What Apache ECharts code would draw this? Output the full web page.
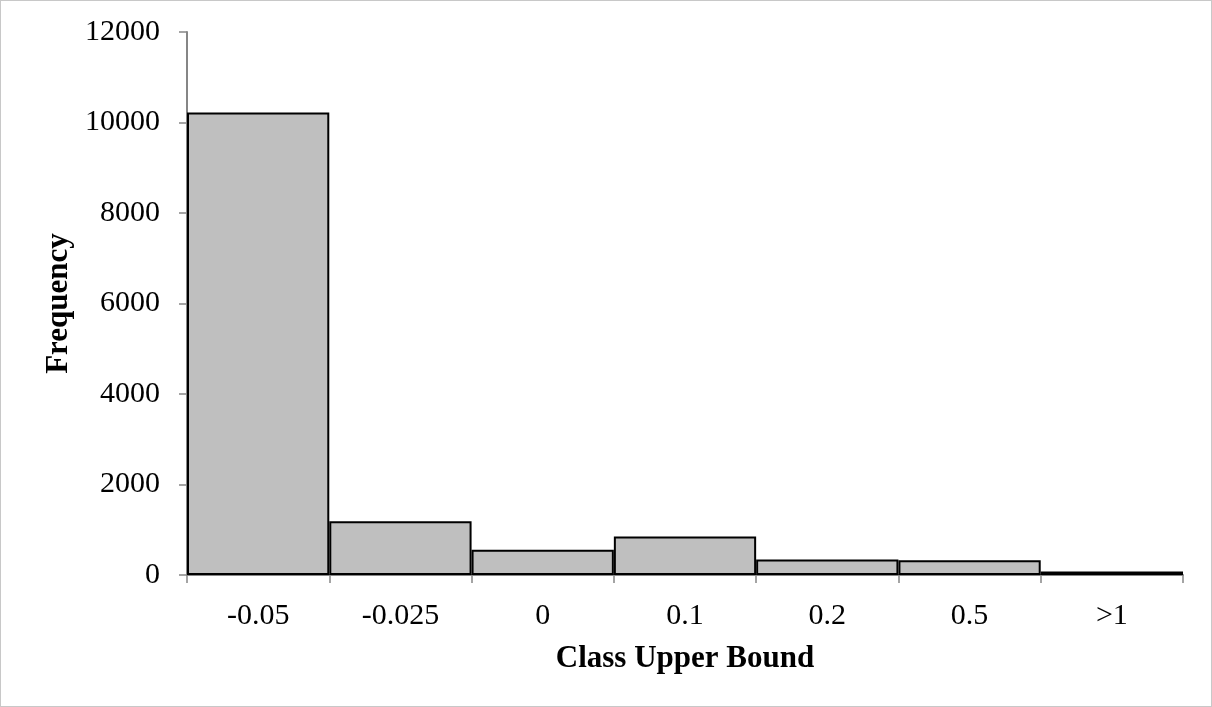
<!DOCTYPE html>
<html>
<head>
<meta charset="utf-8">
<script src="https://cdn.jsdelivr.net/npm/echarts@6/dist/echarts.min.js"></script>
<style>
html,body{margin:0;padding:0;background:#fff;}
#wrap{position:absolute;left:0;top:0;width:1210px;height:705px;border:1px solid #c8c8c8;}
#chart{width:1210px;height:705px;}
</style>
</head>
<body>
<div id="wrap"><div id="chart"></div></div>
<script>
const categories = ['-0.05', '-0.025', '0', '0.1', '0.2', '0.5', '>1'];
const frequency = [10220, 1190, 560, 850, 345, 325, 75];
const yTicks = [0, 2000, 4000, 6000, 8000, 10000, 12000];

const chart = echarts.init(document.getElementById('chart'));
const font = 'Liberation Serif, Times New Roman, serif';
chart.setOption({
  animation: false,
  grid: {left: 186, right: 28, top: 31, bottom: 131},
  xAxis: {
    type: 'category',
    data: categories,
    name: 'Class Upper Bound',
    nameLocation: 'middle',
    nameGap: 68,
    nameTextStyle: {fontFamily: font, fontSize: 31, fontWeight: 'bold', color: '#000'},
    axisLine: {lineStyle: {color: '#868686', width: 2}},
    axisTick: {show: true, length: 8, lineStyle: {color: '#868686', width: 1.5}, alignWithLabel: false},
    axisLabel: {fontFamily: font, fontSize: 30, color: '#000', margin: 26}
  },
  yAxis: {
    type: 'value',
    min: yTicks[0],
    max: yTicks[yTicks.length - 1],
    interval: 2000,
    name: 'Frequency',
    nameLocation: 'middle',
    nameGap: 113,
    nameRotate: 90,
    nameTextStyle: {fontFamily: font, fontSize: 31, fontWeight: 'bold', color: '#000'},
    splitLine: {show: false},
    axisLine: {show: true, lineStyle: {color: '#868686', width: 2}},
    axisTick: {show: true, length: 8, lineStyle: {color: '#868686', width: 1.5}},
    axisLabel: {fontFamily: font, fontSize: 30, color: '#000', margin: 27, formatter: v => String(v)}
  },
  series: [{
    type: 'bar',
    data: frequency,
    barCategoryGap: 0,
    itemStyle: {color: '#bfbfbf', borderColor: '#000', borderWidth: 2}
  }]
});
</script>
</body>
</html>
